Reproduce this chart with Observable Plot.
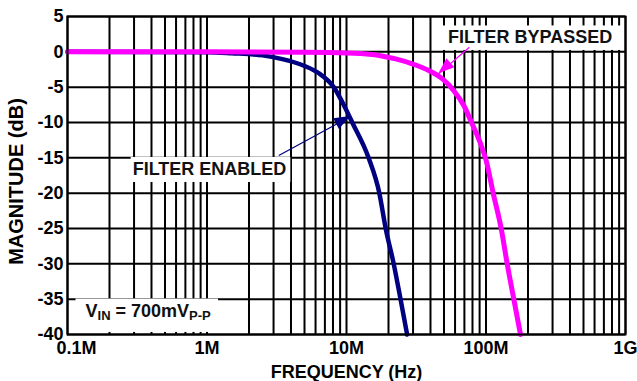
<!DOCTYPE html>
<html><head><meta charset="utf-8">
<script src="https://cdn.jsdelivr.net/npm/d3@7"></script>
<script src="https://cdn.jsdelivr.net/npm/@observablehq/plot@0.6"></script>
<style>body{margin:0;background:#fff} #chart svg{display:block}</style>
</head><body><div id="chart"></div>
<script>
// Series: frequency (Hz) and magnitude (dB)
const freqBypassed = [1e5, 1e6, 5e6, 1e7, 1.26e7, 1.75e7, 2.25e7, 2.96e7, 3.89e7, 4.85e7, 5.88e7, 6.93e7, 7.96e7, 9.14e7, 1e8, 1.126e8, 1.285e8, 1.419e8, 1.583e8, 1.767e8];
const magBypassed  = [0, 0, -0.05, -0.15, -0.25, -0.55, -1.0, -1.7, -2.65, -3.8, -5.5, -7.6, -10.2, -13.0, -15.3, -20, -25, -30, -35, -40];
const freqEnabled = [1e5, 1e6, 1.5e6, 2.5e6, 3.4e6, 5e6, 6.3e6, 8.1e6, 1e7, 1.1e7, 1.44e7, 1.72e7, 1.91e7, 2.18e7, 2.44e7, 2.72e7];
const magEnabled  = [0, -0.05, -0.2, -0.5, -1, -2, -3, -5, -8.3, -10, -15, -20, -25, -30, -35, -40];

// Axes
const xTickValues = [1e5, 1e6, 1e7, 1e8, 1e9];
const xTickLabels = ["0.1M", "1M", "10M", "100M", "1G"];
const yTickValues = [5, 0, -5, -10, -15, -20, -25, -30, -35, -40];
const xGridValues = [1e5, 2e5, 3e5, 4e5, 5e5, 6e5, 7e5, 8e5, 9e5,
                     1e6, 2e6, 3e6, 4e6, 5e6, 6e6, 7e6, 8e6, 9e6,
                     1e7, 2e7, 3e7, 4e7, 5e7, 6e7, 7e7, 8e7, 9e7,
                     1e8, 2e8, 3e8, 4e8, 5e8, 6e8, 7e8, 8e8, 9e8, 1e9];
const xTitle = "FREQUENCY (Hz)";
const yTitle = "MAGNITUDE (dB)";

// Annotations (data coordinates)
const labelText = ["FILTER BYPASSED", "FILTER ENABLED"];
const labelFreq = [2.07e8, 1.042e6];
const labelMag  = [2.0, -16.68];
const vinParts = ["V", "IN", " = 700mV", "P-P"];
const vinFreq = [1.346e5];
const vinMag  = [-36.7];
const arrowFreqFrom = [7.6e7, 3.27e6];
const arrowMagFrom  = [0.65, -14.67];
const arrowFreqTo   = [4.59e7, 1.07e7];
const arrowMagTo    = [-3.1, -9.15];
const arrowColors   = ["#ff00ff", "#000080"];

const bypassed = freqBypassed.map((f, i) => ({f, db: magBypassed[i]}));
const enabled = freqEnabled.map((f, i) => ({f, db: magEnabled[i]}));
const labels = labelText.map((t, i) => ({t, f: labelFreq[i], db: labelMag[i]}));
const vin = [{t: vinParts.join(""), f: vinFreq[0], db: vinMag[0]}];
const arrows = arrowFreqFrom.map((f, i) => ({f1: f, d1: arrowMagFrom[i], f2: arrowFreqTo[i], d2: arrowMagTo[i], c: arrowColors[i]}));

const font = "Liberation Sans, Arial, Helvetica, sans-serif";
const fmtX = d => xTickLabels[xTickValues.indexOf(d)];

const svg = Plot.plot({
  width: 637, height: 381,
  marginLeft: 67, marginRight: 12, marginTop: 16, marginBottom: 47,
  style: {fontFamily: font, fontWeight: "bold", background: "#fff", color: "#000"},
  x: {type: "log", domain: [1e5, 1e9]},
  y: {domain: [-40, 5]},
  marks: [
    Plot.ruleX(xGridValues, {stroke: "#000", strokeWidth: 2}),
    Plot.ruleY(yTickValues, {stroke: "#000", strokeWidth: 2}),
    Plot.text(labels, {x: "f", y: "db", text: "t", fontSize: 18, fontWeight: "bold", fontFamily: font, fill: "#111"}),
    Plot.text(vin, {x: "f", y: "db", text: "t", textAnchor: "start", fontSize: 18, fontWeight: "bold", fontFamily: font, fill: "#111"}),
    Plot.line(enabled, {x: "f", y: "db", stroke: "#000080", strokeWidth: 4.5, curve: "monotone-x"}),
    Plot.line(bypassed, {x: "f", y: "db", stroke: "#ff00ff", strokeWidth: 5, curve: "monotone-x"}),
    Plot.link(arrows, {x1: "f1", y1: "d1", x2: "f2", y2: "d2", stroke: "c", strokeWidth: 1.2}),
    Plot.frame({stroke: "#000", strokeWidth: 2}),
    Plot.axisY({ticks: yTickValues, tickSize: 0, tickPadding: 4, tickFormat: d => String(d), label: null, fontSize: 18, fontWeight: "bold", fontFamily: font}),
    Plot.axisX({ticks: xTickValues.slice(1), tickSize: 0, tickPadding: 7, tickFormat: fmtX, label: null, fontSize: 18, fontWeight: "bold", fontFamily: font}),
    Plot.axisX({ticks: xTickValues.slice(0, 1), tickSize: 0, tickPadding: 7, tickFormat: fmtX, label: null, dx: 9, fontSize: 18, fontWeight: "bold", fontFamily: font}),
    Plot.text([xTitle], {text: d => d, frameAnchor: "bottom", textAnchor: "middle", lineAnchor: "middle", dy: 38, fontSize: 18, fontWeight: "bold", fontFamily: font}),
    Plot.text([yTitle], {text: d => d, frameAnchor: "left", textAnchor: "middle", lineAnchor: "middle", rotate: -90, dx: -51, dy: 6, fontSize: 20, fontWeight: "bold", fontFamily: font})
  ]
});
document.getElementById("chart").append(svg);

// Filled arrowheads, placed through the plot's own scales
const sx = svg.scale("x"), sy = svg.scale("y");
const headG = d3.select(svg).append("g").attr("aria-label", "arrowheads");
arrows.forEach(a => {
  const x1 = sx.apply(a.f1), y1 = sy.apply(a.d1), x2 = sx.apply(a.f2), y2 = sy.apply(a.d2);
  const ang = Math.atan2(y2 - y1, x2 - x1), L = 16, W = 6;
  const bx = x2 - L * Math.cos(ang), by = y2 - L * Math.sin(ang);
  const px = -Math.sin(ang) * W, py = Math.cos(ang) * W;
  headG.append("polygon")
    .attr("points", [[x2, y2], [bx + px, by + py], [bx - px, by - py]].map(p => p.join(",")).join(" "))
    .attr("fill", a.c);
});

// Subscripts in the V_IN label
const vinString = vinParts.join("");
d3.select(svg).selectAll("text").filter(function () { return this.textContent === vinString; }).each(function () {
  const t = d3.select(this);
  t.text(null);
  vinParts.forEach((p, i) => {
    const sub = i % 2 === 1;
    const ts = t.append("tspan").attr("font-size", sub ? 13 : 18).text(p);
    if (i > 0) ts.attr("dy", sub ? 3 : -3);
  });
});

// White boxes behind annotation labels
const pads = {"FILTER BYPASSED": [10, 9, 2, 2.5], "FILTER ENABLED": [2, 4, 2.5, 2.5]};
pads[vinString] = [10, 7, 2.4, 9];
d3.select(svg).selectAll("text").each(function () {
  const p = pads[this.textContent];
  if (!p) return;
  const b = this.getBBox();
  const r = document.createElementNS("http://www.w3.org/2000/svg", "rect");
  r.setAttribute("x", b.x - p[0]);
  r.setAttribute("y", b.y - p[2]);
  r.setAttribute("width", b.width + p[0] + p[1]);
  r.setAttribute("height", b.height + p[2] + p[3]);
  r.setAttribute("fill", "#fff");
  if (this.getAttribute("transform")) r.setAttribute("transform", this.getAttribute("transform"));
  this.parentNode.insertBefore(r, this);
});
</script>
</body></html>
